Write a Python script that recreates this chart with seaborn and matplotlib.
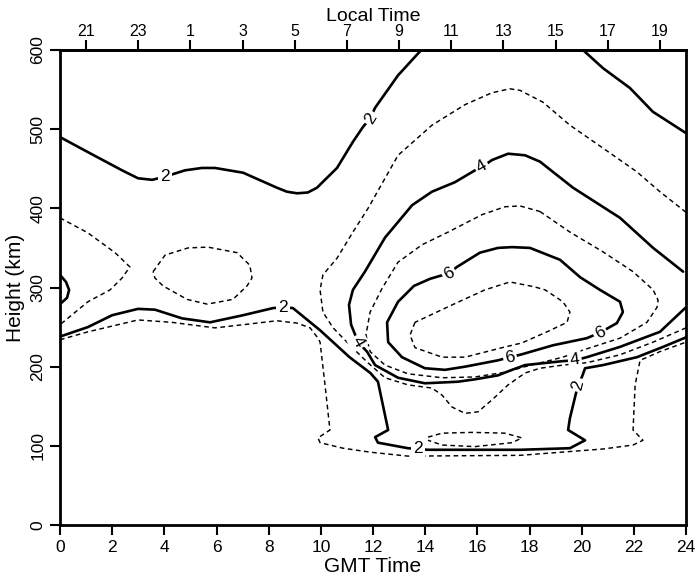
import matplotlib
matplotlib.use("Agg")
import matplotlib.pyplot as plt
import numpy as np
import pandas as pd
import seaborn as sns

# ---------------- data (GMT hours, height km) ----------------
gmt_ticks = [0, 2, 4, 6, 8, 10, 12, 14, 16, 18, 20, 22, 24]
height_ticks = [0, 100, 200, 300, 400, 500, 600]
local_tick_gmt = [1, 3, 5, 7, 9, 11, 13, 15, 17, 19, 21, 23]
local_tick_labels = ["21", "23", "1", "3", "5", "7", "9", "11", "13", "15", "17", "19"]

# level 1 (dashed)
c1_x = [0, 1.07, 2.99, 4.29, 5.94, 7.02, 8.32, 9.09, 9.59, 9.89, 9.97, 10.16, 10.35, 9.89, 9.97,
        10.85, 11.89, 13.34, 17.64, 20.82, 21.97, 22.35, 21.97, 22.05, 22.24, 23.0, 24]
c1_y = [234, 244, 259, 256, 249, 253, 258, 255, 249, 236, 231, 177, 120, 110, 104,
        97, 92, 87, 88, 96, 101, 107, 120, 177, 208, 219, 231]

# level 2 (solid)
c2a_x = [0, 1.07, 2.38, 2.99, 3.53, 4.03, 4.79, 5.44, 5.94, 7.02, 8.32, 8.7, 9.09, 9.5, 9.85,
         10.62, 11.23, 11.62, 11.9, 12.08, 12.96, 13.85]
c2a_y = [490, 471, 448, 438, 436, 440, 448, 451, 451, 445, 426, 421, 419, 420, 426,
         451, 484, 503, 514, 527, 568, 600]
c2b_x = [20.05, 20.82, 21.85, 22.73, 23.39, 24]
c2b_y = [600, 577, 552, 522, 508, 495]
c2c_x = [0, 1.07, 2.0, 2.99, 3.64, 4.68, 5.75, 7.02, 8.17, 8.55, 8.93, 9.97, 11.1, 11.9, 12.19,
         12.58, 12.08, 12.19, 13.34, 14.11, 17.64, 19.55, 20.13, 19.48, 19.55, 19.86, 20.01,
         20.13, 20.82, 22.12, 23.12, 24]
c2c_y = [238, 250, 265, 273, 272, 261, 256, 265, 274, 275, 274, 246, 212, 192, 181,
         120, 111, 104, 97, 95, 95, 97, 107, 120, 135, 177, 187,
         198, 202, 212, 225, 237]

# level 3 (dashed)
c3a_x = [0, 1.07, 2.11, 2.68, 2.38, 1.92, 1.07, 0]
c3a_y = [388, 369, 344, 326, 312, 297, 282, 253]
c3b_x = [3.57, 4.03, 4.91, 5.67, 6.79, 7.28, 7.36, 7.17, 6.63, 5.64, 4.87, 3.95, 3.64, 3.57]
c3b_y = [320, 341, 350, 351, 344, 328, 312, 302, 285, 279, 285, 302, 312, 320]
c3c_x = [24, 23.0, 22.12, 20.82, 19.55, 18.52, 17.64, 17.25, 16.56, 15.53, 14.26, 12.96, 11.81,
         11.23, 10.62, 10.08, 9.97, 10.08, 10.47, 11.12, 11.77, 12.46, 13.34, 14.26, 14.65,
         15.03, 15.53, 16.03, 16.56, 17.18, 17.83, 18.40, 19.28, 20.20, 21.47, 22.74, 24]
c3c_y = [395, 421, 446, 476, 505, 534, 549, 551, 546, 531, 505, 467, 400,
         370, 337, 316, 297, 269, 249, 227, 206, 186, 177, 173, 164,
         149, 141, 143, 158, 177, 192, 198, 202, 205, 215, 231, 249]
c3d_x = [14.11, 14.65, 15.80, 17.06, 17.71, 17.33, 15.91, 14.65, 14.11]
c3d_y = [111, 116, 117, 116, 110, 104, 99, 101, 107]

# level 4 (solid)
c4a_x = [23.89, 22.74, 21.47, 19.67, 18.40, 17.83, 17.18, 16.56, 16.18, 15.91, 15.14, 14.26,
         13.50, 12.46, 11.69, 11.23, 11.08, 11.16, 11.43, 11.77, 12.08, 12.96, 13.99, 15.26,
         15.91, 16.79, 17.33, 17.83, 19.28, 19.74, 20.20, 21.47, 23.0, 24]
c4a_y = [320, 350, 388, 426, 459, 467, 469, 461, 452, 448, 433, 421,
         404, 363, 320, 297, 278, 253, 231, 219, 202, 186, 179, 181,
         184, 189, 196, 202, 207, 208, 212, 225, 244, 275]
c4b_x = [0, 0.23, 0.35, 0.27, 0]
c4b_y = [316, 307, 297, 287, 279]

# level 5 (dashed)
c5_x = [18.40, 19.55, 20.82, 21.97, 22.74, 22.93, 22.89, 22.50, 21.47, 20.05, 19.28, 17.83,
        17.06, 15.91, 14.65, 13.34, 12.46, 11.89, 11.73, 11.89, 12.35, 12.96, 13.88, 14.88,
        16.18, 17.06, 17.64, 18.40]
c5_y = [396, 370, 345, 320, 297, 284, 275, 256, 236, 221, 212, 200,
        193, 187, 186, 191, 202, 219, 240, 269, 299, 332, 354, 370,
        392, 402, 403, 396]

# level 6 (solid)
c6_x = [17.25, 16.79, 15.53, 14.76, 13.99, 13.11, 12.58, 12.54, 12.96, 13.57, 14.19, 14.91,
        15.22, 16.10, 16.79, 17.33, 18.02, 19.17, 19.94, 20.70, 21.47, 21.58, 21.35, 20.70,
        20.20, 18.90, 17.64, 17.25]
c6_y = [212, 208, 200, 196, 198, 212, 231, 256, 282, 302, 311, 318,
        326, 344, 350, 351, 350, 335, 313, 297, 282, 269, 255, 243,
        236, 227, 215, 212]

# level 7 (dashed)
c7_x = [13.61, 13.42, 13.61, 14.65, 15.53, 16.95, 17.71, 18.67, 19.44, 19.55, 19.28, 18.6,
        18.17, 17.25, 16.29, 15.03, 13.61]
c7_y = [256, 240, 224, 212, 212, 224, 230, 244, 256, 269, 282, 297,
        301, 307, 297, 278, 256]

# contour labels
lab_text = ["2", "2", "2", "2", "2", "4", "4", "4", "6", "6", "6"]
lab_x = [4.03, 11.9, 8.55, 13.73, 19.86, 16.18, 11.43, 19.74, 14.91, 17.25, 20.70]
lab_y = [440, 514, 275, 97, 177, 452, 231, 208, 318, 212, 243]
lab_rot = [0, 58, 0, 0, 76, 30, -60, 8, 30, 12, 27]

# ---------------- assemble ----------------
segments = [
    ("c1", 1, c1_x, c1_y), ("c2a", 2, c2a_x, c2a_y), ("c2b", 2, c2b_x, c2b_y),
    ("c2c", 2, c2c_x, c2c_y), ("c3a", 3, c3a_x, c3a_y), ("c3b", 3, c3b_x, c3b_y),
    ("c3c", 3, c3c_x, c3c_y), ("c3d", 3, c3d_x, c3d_y), ("c4a", 4, c4a_x, c4a_y),
    ("c4b", 4, c4b_x, c4b_y), ("c5", 5, c5_x, c5_y), ("c6", 6, c6_x, c6_y),
    ("c7", 7, c7_x, c7_y),
]
rows = []
for name, lev, xs, ys in segments:
    for i, (xv, yv) in enumerate(zip(xs, ys)):
        rows.append({"seg": name, "level": lev, "order": i, "gmt": xv, "km": yv})
df = pd.DataFrame(rows)
df_solid = df[df["level"] % 2 == 0]
df_dash = df[df["level"] % 2 == 1]

sns.set_theme(style="ticks")
plt.rcParams["font.family"] = ["Liberation Sans", "DejaVu Sans"]
for key in ["text.color", "axes.labelcolor", "xtick.color", "ytick.color", "axes.edgecolor"]:
    plt.rcParams[key] = "black"

fig = plt.figure(figsize=(6.97, 5.86), dpi=100)
ax = fig.add_axes([60 / 697, 61 / 586, 626 / 697, 475 / 586])

sns.lineplot(data=df_solid, x="gmt", y="km", units="seg", estimator=None, sort=False,
             color="black", linewidth=1.9, ax=ax)
sns.lineplot(data=df_dash, x="gmt", y="km", units="seg", estimator=None, sort=False,
             color="black", linewidth=1.05, linestyle=(0, (3.2, 2.4)), ax=ax)

for t, xv, yv, r in zip(lab_text, lab_x, lab_y, lab_rot):
    ax.text(xv, yv, t, rotation=r, rotation_mode="anchor", ha="center", va="center",
            fontsize=12.5, color="black", zorder=6,
            bbox=dict(boxstyle="square,pad=0.12", fc="white", ec="none"))

ax.set_xlim(0, 24)
ax.set_ylim(0, 600)
ax.set_xticks(gmt_ticks)
ax.set_yticks(height_ticks)
ax.tick_params(axis="both", direction="out", length=7, width=1.5, labelsize=12.5,
               color="black", labelcolor="black")
ax.tick_params(axis="y", labelrotation=90)
for lbl in ax.get_yticklabels():
    lbl.set_va("center")
for sp in ax.spines.values():
    sp.set_visible(True)
    sp.set_linewidth(2.0)
    sp.set_color("black")
ax.set_xlabel("GMT Time", fontsize=15, labelpad=2, color="black")
ax.set_ylabel("Height (km)", fontsize=15, labelpad=4, color="black")

top = ax.secondary_xaxis("top")
top.set_xticks(local_tick_gmt, labels=local_tick_labels)
top.tick_params(direction="out", length=7, width=1.5, labelsize=11.5, pad=1,
                color="black", labelcolor="black")
top.spines["top"].set_linewidth(2.0)
top.set_xlabel("Local Time", fontsize=14, labelpad=2, color="black")

ax.grid(False)
fig.savefig("out.png", dpi=100, facecolor="white")
